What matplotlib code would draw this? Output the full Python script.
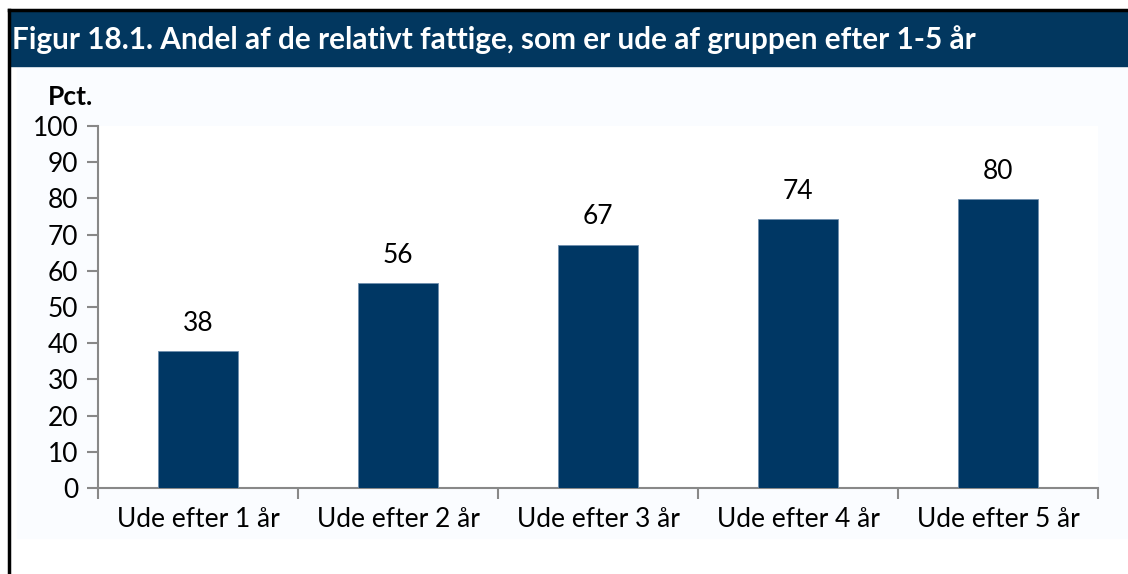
import numpy as np
import matplotlib.pyplot as plt
from matplotlib.patches import Rectangle
from matplotlib.lines import Line2D

plt.rcParams['font.family'] = ['Lato', 'DejaVu Sans']

categories = ["Ude efter 1 år", "Ude efter 2 år", "Ude efter 3 år",
              "Ude efter 4 år", "Ude efter 5 år"]
values = [37.8, 56.5, 67.2, 74.2, 79.7]
yticks = [0, 10, 20, 30, 40, 50, 60, 70, 80, 90, 100]
title = "Figur 18.1. Andel af de relativt fattige, som er ude af gruppen efter 1-5 år"

navy = "#02375f"
bar_col = "#003764"
grey = "#888888"

fig = plt.figure(figsize=(11.28, 5.74), dpi=100)

# frame + title band
fig.patches.append(Rectangle((17/1128, 1 - 538/574), 1 - 17/1128, (538 - 66)/574,
                             transform=fig.transFigure, color="#fafcff", zorder=-2))
fig.patches.append(Rectangle((9/1128, 1 - 66/574), 1 - 9/1128, (66 - 11)/574,
                             transform=fig.transFigure, color=navy, zorder=-1))
fig.lines.append(Line2D([9/1128, 1], [1 - 10/574, 1 - 10/574], transform=fig.transFigure,
                        color="black", lw=2.5, zorder=2))
fig.lines.append(Line2D([9/1128, 9/1128], [0, 1 - 10/574], transform=fig.transFigure,
                        color="black", lw=2.5, zorder=2))
fig.text(12/1128, 1 - 40/574, title, color="white", fontsize=21.4, fontweight="bold",
         va="center", ha="left")

ax = fig.add_axes([98/1128, 1 - 488/574, 1000/1128, 362/574])
ax.set_zorder(5)
ax.set_facecolor("white")
x = np.arange(len(categories))
ax.bar(x, values, width=0.4, color=bar_col, edgecolor="#6f8fae", linewidth=0.6, zorder=3)
for xi, v in zip(x, values):
    ax.text(xi, v + 4.3, f"{v:.0f}", ha="center", va="bottom", fontsize=19)

ax.set_xlim(-0.5, len(categories) - 0.5)
ax.set_ylim(0, 100)
ax.set_yticks(yticks)
ax.set_xticks(x)
ax.set_xticklabels(categories)
ax.set_xticks(np.arange(-0.5, len(categories)), minor=True)
ax.tick_params(axis="x", which="major", length=0, pad=14, labelsize=19)
ax.tick_params(axis="x", which="minor", length=8, color=grey, width=1.5)
ax.tick_params(axis="y", length=8, color=grey, width=1.5, labelsize=19, pad=6)
for s in ["top", "right"]:
    ax.spines[s].set_visible(False)
for s in ["left", "bottom"]:
    ax.spines[s].set_color(grey)
    ax.spines[s].set_linewidth(1.5)

fig.text(48/1128, 1 - 97/574, "Pct.", fontsize=19, fontweight="bold", va="center", ha="left")

fig.savefig("out.png", dpi=100)
